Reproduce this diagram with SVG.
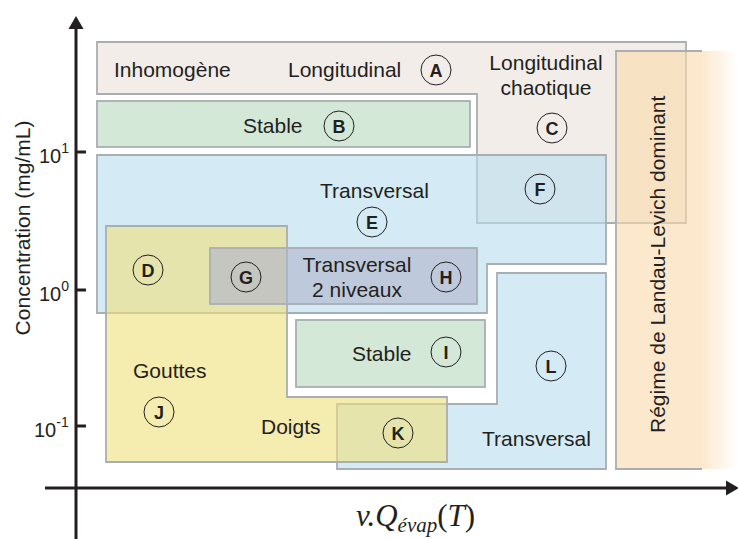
<svg xmlns="http://www.w3.org/2000/svg" width="738" height="539" viewBox="0 0 738 539">
<defs>
<linearGradient id="lgLandau" gradientUnits="userSpaceOnUse" x1="616" y1="0" x2="738" y2="0">
<stop offset="0" stop-color="#fadaaa" stop-opacity="0.6"/>
<stop offset="0.7" stop-color="#fadaaa" stop-opacity="0.6"/>
<stop offset="1" stop-color="#fadaaa" stop-opacity="0"/>
</linearGradient>
<style>
.reg{stroke:#a9aeb3;stroke-width:1.8;fill-opacity:0.6;stroke-linejoin:miter}
.t{font-family:"Liberation Sans",Arial,sans-serif;font-size:21px;fill:#231f20}
.c{fill:none;stroke:#231f20;stroke-width:1}
.l{font-family:"Liberation Sans",Arial,sans-serif;font-size:18px;font-weight:bold;fill:#231f20;text-anchor:middle}
.ax{stroke:#231f20;stroke-width:3;fill:none}
.tk{font-family:"Liberation Sans",Arial,sans-serif;font-size:20px;fill:#231f20}
</style>
</defs>
<rect width="738" height="539" fill="#ffffff"/>

<g id="regionA">
<path class="reg" fill="#e9e1da" d="M97,42 H686 V223 H477 V94 H97 Z"/>
</g>
<g id="regionB">
<rect class="reg" fill="#b6d9bc" x="97" y="101" width="373" height="46"/>
</g>
<g id="regionE">
<path class="reg" fill="#b7deee" d="M97,155 H606 V264 H487 V313 H97 Z"/>
</g>
<g id="regionL">
<path class="reg" fill="#b7deee" d="M497,273 H606 V469 H337 V404 H497 Z"/>
</g>
<g id="regionJ">
<path class="reg" fill="#eedf7b" d="M106,226 H287 V397 H447 V462 H106 Z"/>
</g>
<g id="regionGH">
<rect class="reg" fill="#b1b2cb" x="210" y="248" width="267" height="56"/>
</g>
<g id="regionI">
<rect class="reg" fill="#b6d9bc" x="296" y="320" width="189" height="67"/>
</g>
<g id="regionLandau">
<rect x="616" y="51" width="122" height="418" fill="url(#lgLandau)"/>
<path d="M702,51 H616 V469 H702" fill="none" stroke="#a9aeb3" stroke-width="1.8"/>
<text class="t" transform="translate(665,433) rotate(-90)">Régime de Landau-Levich dominant</text>
</g>

<g id="labels">
<text class="t" x="114" y="77">Inhomogène</text>
<text class="t" x="288" y="77">Longitudinal</text>
<text class="t" x="546" y="70" text-anchor="middle">Longitudinal</text>
<text class="t" x="546" y="95" text-anchor="middle">chaotique</text>
<text class="t" x="243" y="133">Stable</text>
<text class="t" x="320" y="198">Transversal</text>
<text class="t" x="357" y="272" text-anchor="middle">Transversal</text>
<text class="t" x="357" y="297" text-anchor="middle">2 niveaux</text>
<text class="t" x="352" y="361">Stable</text>
<text class="t" x="133" y="378">Gouttes</text>
<text class="t" x="261" y="434">Doigts</text>
<text class="t" x="482" y="446">Transversal</text>
</g>

<g id="badges">
<circle class="c" cx="436" cy="70" r="15"/><text class="l" x="436" y="76.5">A</text>
<circle class="c" cx="339" cy="126" r="15"/><text class="l" x="339" y="132.5">B</text>
<circle class="c" cx="552" cy="128" r="15"/><text class="l" x="552" y="134.5">C</text>
<circle class="c" cx="148" cy="270" r="15"/><text class="l" x="148" y="276.5">D</text>
<circle class="c" cx="372" cy="222" r="15"/><text class="l" x="372" y="228.5">E</text>
<circle class="c" cx="540" cy="189" r="15"/><text class="l" x="540" y="195.5">F</text>
<circle class="c" cx="246" cy="277" r="15"/><text class="l" x="246" y="283.5">G</text>
<circle class="c" cx="446" cy="277" r="15"/><text class="l" x="446" y="283.5">H</text>
<circle class="c" cx="446" cy="352" r="15"/><text class="l" x="446" y="358.5">I</text>
<circle class="c" cx="159" cy="412" r="15"/><text class="l" x="159" y="418.5">J</text>
<circle class="c" cx="398" cy="433" r="15"/><text class="l" x="398" y="439.5">K</text>
<circle class="c" cx="551" cy="366" r="15"/><text class="l" x="551" y="372.5">L</text>
</g>

<g id="axes">
<line class="ax" x1="76" y1="539" x2="76" y2="26"/>
<polygon points="76,16 68.5,29 83.5,29" fill="#231f20"/>
<line class="ax" x1="45" y1="488" x2="728" y2="488"/>
<polygon points="739,488 726,480.5 726,495.5" fill="#231f20"/>
<line class="ax" x1="76" y1="152" x2="86" y2="152"/>
<line class="ax" x1="76" y1="290" x2="86" y2="290"/>
<line class="ax" x1="76" y1="426" x2="86" y2="426"/>
<text class="tk" x="39" y="163">10<tspan font-size="14" dy="-10">1</tspan></text>
<text class="tk" x="39" y="301">10<tspan font-size="14" dy="-10">0</tspan></text>
<text class="tk" x="34" y="437">10<tspan font-size="14" dy="-10">-1</tspan></text>
<text class="t" transform="translate(30,228) rotate(-90)" text-anchor="middle">Concentration (mg/mL)</text>
<text x="356" y="526" font-family="'Liberation Serif','Times New Roman',serif" font-size="31" font-style="italic" fill="#231f20">v.Q<tspan font-size="21" dy="6">évap</tspan><tspan dy="-6" font-style="normal">(</tspan>T<tspan font-style="normal">)</tspan></text>
</g>
</svg>
